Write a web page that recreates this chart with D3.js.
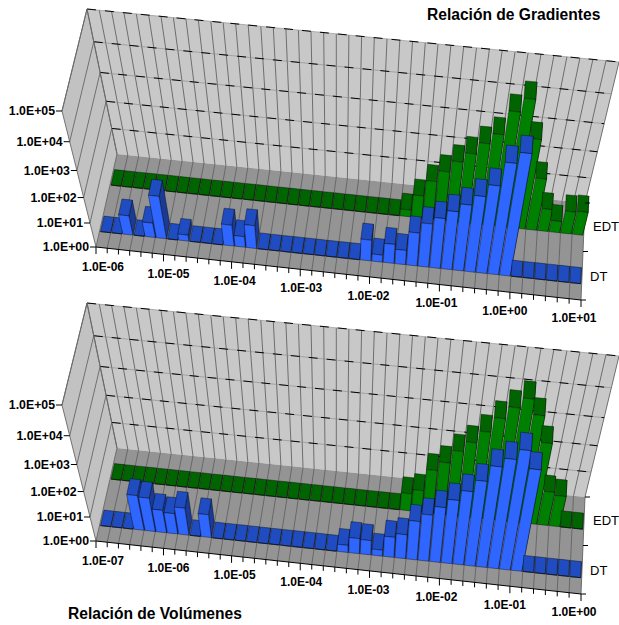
<!DOCTYPE html>
<html>
<head>
<meta charset="utf-8">
<title>Relación de Gradientes y Volúmenes</title>
<script src="https://d3js.org/d3.v7.min.js"></script>
<style>
  body { margin: 0; background: #fff; }
  text { font-family: "Liberation Sans", Arial, sans-serif; fill: #000; }
</style>
</head>
<body>
<div id="chart"></div>
<script>
// values, 42 bins per chart
var gradLabels = ["1.0E-06","1.0E-05","1.0E-04","1.0E-03","1.0E-02","1.0E-01","1.0E+00","1.0E+01"];
var volLabels = ["1.0E-07","1.0E-06","1.0E-05","1.0E-04","1.0E-03","1.0E-02","1.0E-01","1.0E+00"];
var yTicks = [1, 10, 100, 1000, 10000, 100000];
var yLabels = ["1.0E+00","1.0E+01","1.0E+02","1.0E+03","1.0E+04","1.0E+05"];
var rows = ["DT", "EDT"];

var gradDT = [1,1,6.3,1,4,52,1,1.8,1,1,1,7.4,2.8,8.9,1,1,1,1,1,1,1,1,1,
  7.4,2,6.3,4,23,59,107,219,437,1000,2690,17800,41700,1,1,1,1,1,1];
var gradEDT = [1,1,1,1,1,1,1,1,1,1,1,1,1,1,1,1,1,1,1,1,1,1,1,1,1,1,
  1.9,7.9,32,83,214,468,1180,2700,17000,47900,2510,107,7.9,2.9,7.9,8.7];
var volDT = [1,1,1,26,23,8.5,7,13,1,8.9,1,1,1,1,1,1,1,1,1,1,1,
  2,4.3,4,1.8,7,10,38,76,166,347,813,2140,7590,15100,33100,8300,1,1,1,1,1];
var volEDT = [1,1,1,1,1,1,1,1,1,1,1,1,1,1,1,1,1,1,1,1,1,1,1,1,1,1,
  5,7.4,50,107,316,708,1860,5890,14800,31600,10000,1260,22,17,1,1];

var width = 619, height = 625;
var svg = d3.select("#chart").append("svg").attr("width", width).attr("height", height);

// scales work in 0..1 box coordinates, project() sends them to the screen
var x = d3.scaleBand().domain(d3.range(42)).range([0, 1]).padding(0.09);
var y = d3.scaleLog().domain([1, 100000]).range([0, 1]);
var z = d3.scaleBand().domain(rows).range([0, 1]).paddingInner(2 / 3).paddingOuter(1 / 3);

// corners of the box as drawn on the page
var corners = {
  fl: [96, 247], fr: [581, 300], bl: [117, 154], br: [585, 203],
  tfl: [62, 111], tfr: [615, 168], tbl: [87, 9], tbr: [619, 62]
};

function lerp(a, b, t) { return [a[0] + (b[0] - a[0]) * t, a[1] + (b[1] - a[1]) * t]; }

function project(u, v, w) {
  var uu = u * 0.97 / (1 - 0.03 * u);
  var vv = 0.857 * v / (1 - 0.143 * v);
  var low = lerp(lerp(corners.fl, corners.fr, uu), lerp(corners.bl, corners.br, uu), w);
  var high = lerp(lerp(corners.tfl, corners.tfr, uu), lerp(corners.tbl, corners.tbr, uu), w);
  return lerp(low, high, vv);
}

function pts(list) {
  return list.map(function(p) { return p[0].toFixed(1) + "," + p[1].toFixed(1); }).join(" ");
}

var colors = {
  DT: { front: "#2f66ff", top: "#1f4cc0", side: "#1a3a94" },
  EDT: { front: "#008000", top: "#006400", side: "#005000" }
};

function drawChart(dy, labels, dt, edt) {
  var g = svg.append("g").attr("transform", "translate(0," + dy + ")");

  // walls and floor
  g.append("polygon").attr("fill", "#c8c8c8").attr("points", pts([project(0,0,1), project(1,0,1), project(1,1,1), project(0,1,1)]));
  g.append("polygon").attr("fill", "#c2c2c2").attr("points", pts([project(0,0,0), project(0,0,1), project(0,1,1), project(0,1,0)]));
  g.append("polygon").attr("fill", "#949494").attr("points", pts([project(0,0,0), project(1,0,0), project(1,0,1), project(0,0,1)]));

  // grid lines, every bin on the wall and floor
  var steps = d3.range(43).map(function(i) { return i / 42; });
  g.selectAll("polyline.grid").data(steps).enter().append("polyline")
    .attr("class", "grid").attr("fill", "none").attr("stroke", "#636363").attr("stroke-width", 0.9)
    .attr("points", function(u) { return pts([project(u,0,0), project(u,0,1), project(u,1,1)]); });

  // decade lines, gray on the left wall, broken black on the back wall
  var decades = yTicks.slice(1);
  g.selectAll("line.side").data(decades).enter().append("line")
    .attr("class", "side").attr("stroke", "#666").attr("stroke-width", 0.9)
    .attr("x1", function(d) { return project(0, y(d), 0)[0]; })
    .attr("y1", function(d) { return project(0, y(d), 0)[1]; })
    .attr("x2", function(d) { return project(0, y(d), 1)[0]; })
    .attr("y2", function(d) { return project(0, y(d), 1)[1]; });
  g.selectAll("line.backgray").data(decades).enter().append("line")
    .attr("class", "backgray").attr("stroke", "#888").attr("stroke-width", 0.6)
    .attr("x1", function(d) { return project(0, y(d), 1)[0]; })
    .attr("y1", function(d) { return project(0, y(d), 1)[1]; })
    .attr("x2", function(d) { return project(1, y(d), 1)[0]; })
    .attr("y2", function(d) { return project(1, y(d), 1)[1]; });
  g.selectAll("line.back").data(decades).enter().append("line")
    .attr("class", "back").attr("stroke", "#000").attr("stroke-dasharray", "9 9")
    .attr("x1", function(d) { return project(0, y(d), 1)[0]; })
    .attr("y1", function(d) { return project(0, y(d), 1)[1]; })
    .attr("x2", function(d) { return project(1, y(d), 1)[0]; })
    .attr("y2", function(d) { return project(1, y(d), 1)[1]; });

  // left wall outline
  g.append("polyline").attr("fill", "none").attr("stroke", "#666").attr("stroke-width", 0.9)
    .attr("points", pts([project(0,0,0), project(0,1,0), project(0,1,1), project(0,0,1)]));

  // bars, back row first, left to right
  var faces = [];
  [["EDT", edt], ["DT", dt]].forEach(function(row) {
    var name = row[0], w0 = z(name), w1 = z(name) + z.bandwidth();
    row[1].forEach(function(val, i) {
      var u0 = x(i), u1 = x(i) + x.bandwidth(), v = y(val);
      faces.push({ fill: colors[name].side, p: [project(u1,0,w0), project(u1,0,w1), project(u1,v,w1), project(u1,v,w0)] });
      faces.push({ fill: colors[name].top, p: [project(u0,v,w0), project(u1,v,w0), project(u1,v,w1), project(u0,v,w1)] });
      faces.push({ fill: colors[name].front, p: [project(u0,0,w0), project(u1,0,w0), project(u1,v,w0), project(u0,v,w0)] });
    });
  });
  g.selectAll("polygon.face").data(faces).enter().append("polygon")
    .attr("class", "face")
    .attr("fill", function(d) { return d.fill; })
    .attr("stroke", "#000").attr("stroke-width", 0.55).attr("stroke-opacity", 0.7)
    .attr("points", function(d) { return pts(d.p); });

  // front edge of the floor
  var a = project(0,0,0), b = project(1,0,0);
  g.append("line").attr("stroke", "#000").attr("x1", a[0]).attr("y1", a[1]).attr("x2", b[0]).attr("y2", b[1]);

  // x axis
  g.selectAll("line.xtick").data(steps).enter().append("line")
    .attr("class", "xtick").attr("stroke", "#000")
    .attr("x1", function(u) { return project(u,0,0)[0]; })
    .attr("y1", function(u) { return project(u,0,0)[1]; })
    .attr("x2", function(u) { return project(u,0,0)[0]; })
    .attr("y2", function(u, i) { return project(u,0,0)[1] + (i % 6 == 0 ? 7 : 5); });
  g.selectAll("text.xlab").data(labels).enter().append("text")
    .attr("class", "xlab").attr("text-anchor", "middle").attr("font-size", 12).attr("font-weight", "bold")
    .attr("x", function(d, i) { return project(i / 7,0,0)[0] + 7 - 2 * i; })
    .attr("y", function(d, i) { return project(i / 7,0,0)[1] + 23.5 - 0.2 * i; })
    .text(function(d) { return d; });

  // y axis
  g.selectAll("line.ytick").data(yTicks).enter().append("line")
    .attr("class", "ytick").attr("stroke", "#000")
    .attr("x1", function(d) { return project(0, y(d), 0)[0] - 6; })
    .attr("x2", function(d) { return project(0, y(d), 0)[0]; })
    .attr("y1", function(d) { return project(0, y(d), 0)[1]; })
    .attr("y2", function(d) { return project(0, y(d), 0)[1]; });
  g.selectAll("text.ylab").data(yLabels).enter().append("text")
    .attr("class", "ylab").attr("text-anchor", "end").attr("font-size", 12.3).attr("font-weight", "bold")
    .attr("x", function(d, i) { return project(0, y(yTicks[i]), 0)[0] - 7; })
    .attr("y", function(d, i) { return project(0, y(yTicks[i]), 0)[1] + 4; })
    .text(function(d) { return d; });

  // depth axis
  g.selectAll("line.ztick").data([0, 0.5, 1]).enter().append("line")
    .attr("class", "ztick").attr("stroke", "#000")
    .attr("x1", function(w) { return project(1,0,w)[0]; })
    .attr("x2", function(w) { return project(1,0,w)[0] + 5; })
    .attr("y1", function(w) { return project(1,0,w)[1]; })
    .attr("y2", function(w) { return project(1,0,w)[1]; });
  g.selectAll("text.zlab").data(rows).enter().append("text")
    .attr("class", "zlab").attr("font-size", 13)
    .attr("x", function(d) { return d == "DT" ? 590 : 593; })
    .attr("y", function(d) { return project(1, 0, z(d) + z.bandwidth() / 2)[1] + 5 + (d == "DT" ? 0 : -1); })
    .text(function(d) { return d; });
}

drawChart(0, gradLabels, gradDT, gradEDT);
drawChart(294, volLabels, volDT, volEDT);

svg.append("text").attr("x", 427).attr("y", 20).attr("font-size", 15.6).attr("font-weight", "bold").text("Relación de Gradientes");
svg.append("text").attr("x", 68).attr("y", 619).attr("font-size", 15.6).attr("font-weight", "bold").text("Relación de Volúmenes");
</script>
</body>
</html>
